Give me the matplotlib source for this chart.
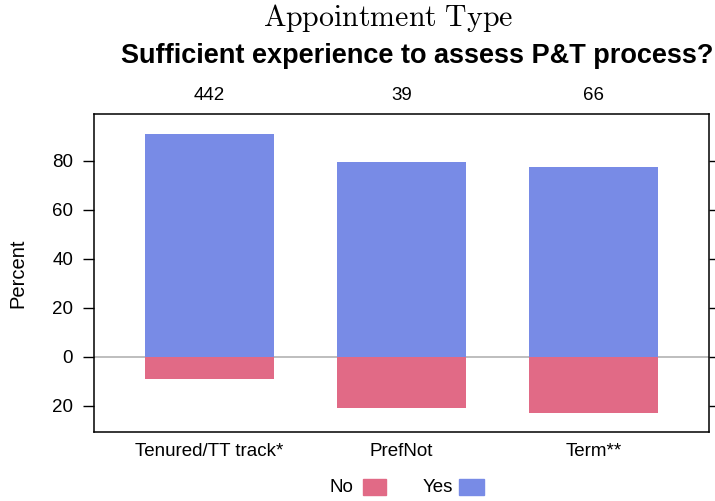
import numpy as np
import matplotlib
matplotlib.use("Agg")
import matplotlib.pyplot as plt
from matplotlib.ticker import FuncFormatter
from matplotlib.patches import Rectangle
from matplotlib.transforms import blended_transform_factory

# data
categories = ["Tenured/TT track*", "PrefNot", "Term**"]
counts = [442, 39, 66]
pct_yes = [91.2, 79.5, 77.4]
pct_no = [9.0, 20.8, 22.9]

col_no = "#E16A86"
col_yes = "#788BE6"

plt.rcParams["font.family"] = ["Liberation Sans", "DejaVu Sans"]
plt.rcParams["mathtext.fontset"] = "cm"

W, H = 715, 501
fig = plt.figure(figsize=(W / 100, H / 100), dpi=100)
ax = fig.add_axes([94 / W, 1 - 432 / H, 615 / W, 318 / H])

x = np.arange(1, len(categories) + 1)
ax.axhline(0, color="#B3B3B3", lw=1.2, zorder=1)
ax.bar(x, pct_yes, width=0.672, color=col_yes, zorder=2)
ax.bar(x, [-v for v in pct_no], width=0.672, color=col_no, zorder=2)

ax.set_xlim(0.4, 3.6)
ax.set_ylim(-30.8, 99.2)
ax.set_yticks([-20, 0, 20, 40, 60, 80])
ax.yaxis.set_major_formatter(FuncFormatter(lambda v, p: f"{abs(int(v))}"))
ax.tick_params(axis="y", which="both", left=True, right=True, direction="out",
               length=8, width=1, labelsize=13.5, pad=7)
ax.set_xticks([])
for sp in ax.spines.values():
    sp.set_linewidth(1.1)
ax.set_ylabel("Percent", fontsize=14.5, labelpad=18)

# category labels below and counts above
tr = blended_transform_factory(ax.transData, fig.transFigure)
for xi, lab, n in zip(x, categories, counts):
    ax.text(xi, 1 - 451 / H, lab, transform=tr, ha="center", va="center", fontsize=13.5)
    ax.text(xi, 1 - 96 / H, str(n), transform=tr, ha="center", va="center", fontsize=13.5)

fig.text(388 / W, 1 - 18 / H, r"$\mathrm{Appointment\ Type}$", ha="center", va="center",
         fontsize=21.5)
fig.text(417.5 / W, 1 - 56 / H, "Sufficient experience to assess P&T process?",
         ha="center", va="center", fontsize=19.5, fontweight="bold")

# legend at bottom
fig.text(353 / W, 1 - 487 / H, "No", ha="right", va="center", fontsize=13.5)
fig.patches.append(Rectangle((363 / W, 1 - 495 / H), 23 / W, 16 / H,
                             transform=fig.transFigure, color=col_no))
fig.text(453 / W, 1 - 487 / H, "Yes", ha="right", va="center", fontsize=13.5)
fig.patches.append(Rectangle((459 / W, 1 - 495 / H), 25 / W, 16 / H,
                             transform=fig.transFigure, color=col_yes))

fig.savefig("out.png", dpi=100)
